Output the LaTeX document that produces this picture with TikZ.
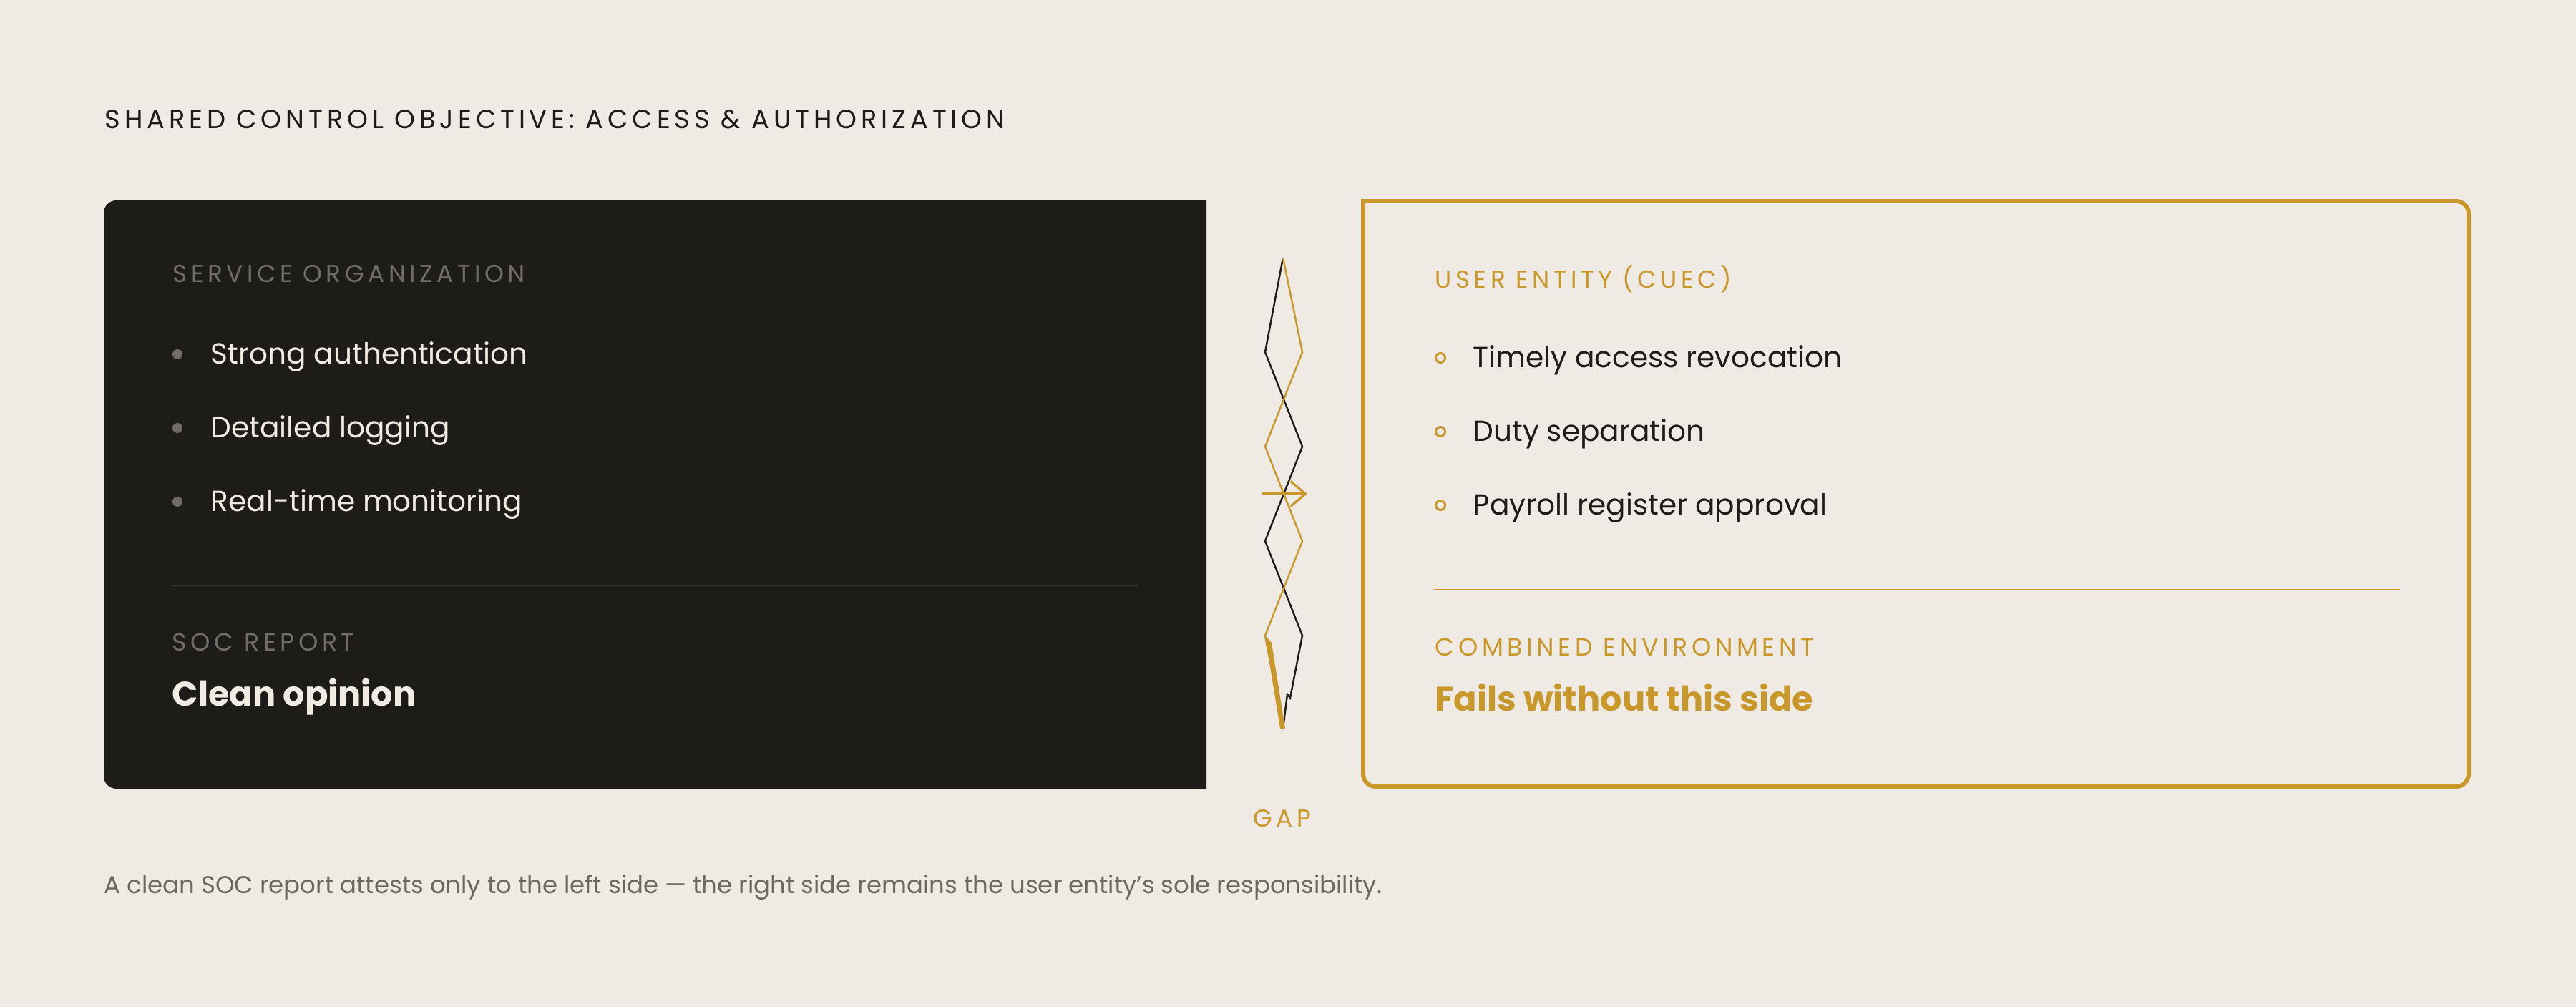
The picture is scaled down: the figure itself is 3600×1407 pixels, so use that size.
\documentclass[tikz,border=0pt]{standalone}
\usepackage{fontspec}
\setmainfont{Poppins}
\newfontfamily\trackfont[LetterSpace=16]{Poppins}
\usepackage{xcolor}
\definecolor{paper}{RGB}{239,235,228}
\definecolor{ink-900}{RGB}{30,28,24}
\definecolor{ink-700}{RGB}{58,56,51}
\definecolor{gold-600}{RGB}{201,152,43}
\definecolor{gray-500}{RGB}{112,109,103}
\definecolor{gray-600}{RGB}{107,104,98}
\definecolor{cream-100}{RGB}{240,236,228}
\usetikzlibrary{arrows.meta}

\begin{document}
\begin{tikzpicture}[
    x=0.01cm, y=-0.01cm,
    every node/.style={inner sep=0pt, anchor=base west},
    tag/.style={font=\trackfont\fontsize{9.75pt}{11pt}\selectfont},
    bigtag/.style={font=\trackfont\fontsize{9.9pt}{12pt}\selectfont},
    item/.style={font=\fontsize{11.55pt}{14pt}\selectfont},
    verdict/.style={font=\bfseries\fontsize{13.6pt}{16pt}\selectfont}
]

% Canvas
\fill[paper] (0,0) rectangle (3600,1407);
\useasboundingbox (0,0) rectangle (3600,1407);

% Heading
\node[font=\trackfont\fontsize{10.45pt}{12pt}\selectfont, text=ink-900] (title) at (146,180) {SHARED CONTROL OBJECTIVE: ACCESS \& AUTHORIZATION};

% Service organization panel (rounded on the left only)
\fill[ink-900] (1686,280) [rounded corners=5pt] -- (145,280) -- (145,1102) [sharp corners] -- (1686,1102) -- cycle;

\node[tag, text=gray-500] (svc-label) at (241,395) {SERVICE ORGANIZATION};
\fill[gray-500] (248,495) circle (2pt);
\fill[gray-500] (248,598) circle (2pt);
\fill[gray-500] (248,701) circle (2pt);
\node[item, text=cream-100] (svc-auth) at (294,509) {Strong authentication};
\node[item, text=cream-100] (svc-log) at (294,612) {Detailed logging};
\node[item, text=cream-100] (svc-mon) at (294,715) {Real-time monitoring};

\draw[ink-700, line width=0.85pt] (240,818) -- (1590,818);
\node[bigtag, text=gray-500] (soc-label) at (240,910) {SOC REPORT};
\node[verdict, text=cream-100] (soc-verdict) at (240,986) {Clean opinion};

% User entity panel (rounded on the right only)
\draw[gold-600, line width=1.7pt] (1905,281) [rounded corners=5pt] -- (3450,281) -- (3450,1099) -- (1905,1099) [sharp corners] -- cycle;

\node[tag, text=gold-600] (user-label) at (2005,403) {USER ENTITY (CUEC)};
\draw[gold-600, line width=0.85pt] (2013,500) circle (1.85pt);
\draw[gold-600, line width=0.85pt] (2013,603) circle (1.85pt);
\draw[gold-600, line width=0.85pt] (2013,706) circle (1.85pt);
\node[item, text=ink-900] (user-revoke) at (2058,514) {Timely access revocation};
\node[item, text=ink-900] (user-duty) at (2058,617) {Duty separation};
\node[item, text=ink-900] (user-payroll) at (2058,720) {Payroll register approval};

\draw[gold-600, line width=0.85pt] (2004,824) -- (3354,824);
\node[bigtag, text=gold-600] (env-label) at (2005,916) {COMBINED ENVIRONMENT};
\node[verdict, text=gold-600] (env-verdict) at (2005,993) {Fails without this side};

% Torn seam between the panels
\draw[ink-900, line width=0.7pt, line join=miter] (1793,360) -- (1768,492) -- (1820,624) -- (1768,756) -- (1820,888) -- (1803,975) -- (1799,970) -- (1793,1018);
\draw[gold-600, line width=0.7pt, line join=miter] (1793,360) -- (1820,492) -- (1768,624) -- (1820,756) -- (1768,888) -- (1793,1018);
\fill[gold-600] (1768,888) -- (1777,898) -- (1796,1018) -- (1789,1018) -- cycle;

\coordinate (gap-in) at (1764,690);
\coordinate (gap-out) at (1827,690);
\draw[gold-600, line width=0.9pt, -{Straight Barb[length=6pt, width=10pt]}] (gap-in) -- (gap-out);
\node[tag, text=gold-600, anchor=base] (gap-label) at (1792,1155) {GAP};

% Footnote
\node[font=\fontsize{9.65pt}{12pt}\selectfont, text=gray-600] (footnote) at (145,1248) {A clean SOC report attests only to the left side --- the right side remains the user entity's sole responsibility.};

\end{tikzpicture}
\end{document}
